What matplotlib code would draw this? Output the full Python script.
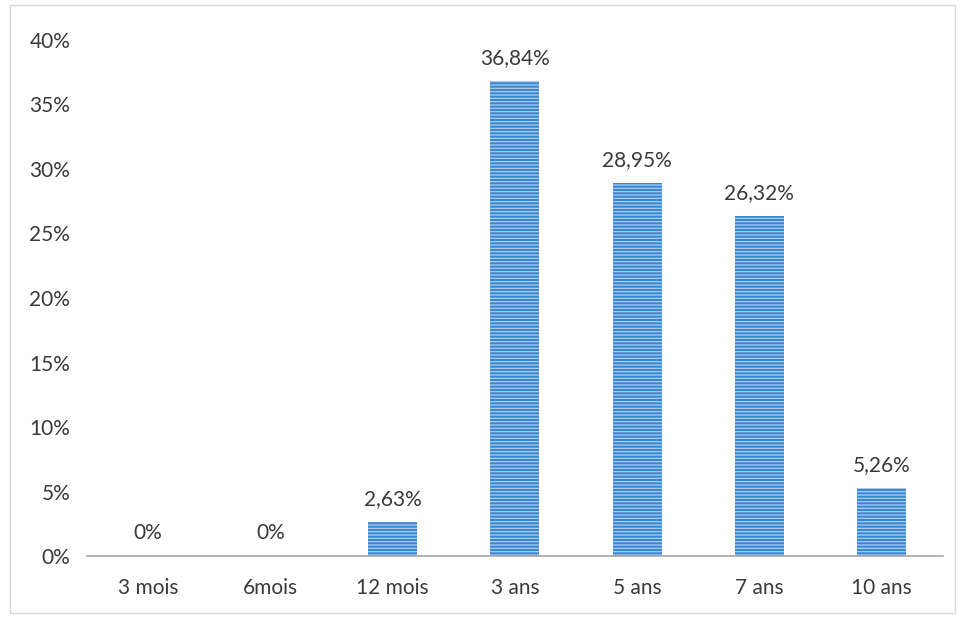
import matplotlib
matplotlib.use("Agg")
from matplotlib import pyplot as plt
from matplotlib.patches import Rectangle
from matplotlib.ticker import FuncFormatter

categories = ["3 mois", "6mois", "12 mois", "3 ans", "5 ans", "7 ans", "10 ans"]
values = [0.0, 0.0, 2.63, 36.84, 28.95, 26.32, 5.26]
value_labels = ["0%", "0%", "2,63%", "36,84%", "28,95%", "26,32%", "5,26%"]
yticks = [0, 5, 10, 15, 20, 25, 30, 35, 40]

plt.rcParams["font.family"] = ["Lato", "DejaVu Sans"]
plt.rcParams["hatch.linewidth"] = 0.9
text_color = "#3a3a3a"

fig = plt.figure(figsize=(9.63, 6.2), dpi=100)
fig.patches.append(Rectangle((0.010, 0.012), 0.982, 0.98, transform=fig.transFigure,
                             fill=False, edgecolor="#d9d9d9", linewidth=1))
ax = fig.add_axes([0.0903, 0.1032, 0.8887, 0.8323])

x = range(len(categories))
ax.bar(x, values, width=0.4, color="#3b86d0", linewidth=0)
# light horizontal stripes over the bars
ax.bar(x, values, width=0.4, facecolor="none", edgecolor="#a9d0f2", hatch="-----",
       linewidth=0)
for xi, v, lab in zip(x, values, value_labels):
    ax.text(xi, v + 1.0, lab, ha="center", va="bottom", fontsize=15, color=text_color)

ax.set_xlim(-0.5, len(categories) - 0.5)
ax.set_ylim(0, 40)
ax.set_yticks(yticks)
ax.yaxis.set_major_formatter(FuncFormatter(lambda v, p: f"{int(v)}%"))
ax.set_xticks(list(x))
ax.set_xticklabels(categories)
ax.tick_params(axis="both", length=0, labelsize=15, colors=text_color)
ax.tick_params(axis="y", pad=12)
ax.tick_params(axis="x", pad=16)
for s in ["top", "right", "left"]:
    ax.spines[s].set_visible(False)
ax.spines["bottom"].set_color("#a6a6a6")
ax.spines["bottom"].set_linewidth(1.2)

fig.savefig("out.png", dpi=100)
